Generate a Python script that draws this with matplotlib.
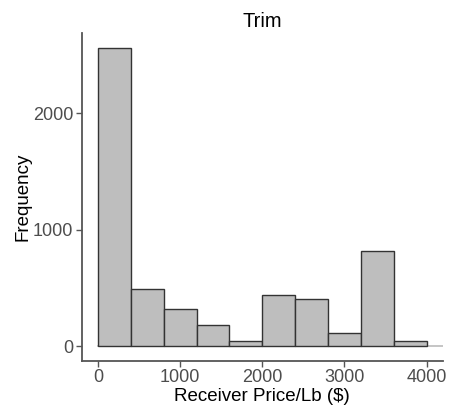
import numpy as np
import matplotlib
matplotlib.use("Agg")
import matplotlib.pyplot as plt

plt.rcParams["font.family"] = ["Liberation Sans", "DejaVu Sans"]

# histogram of receiver price per lb, bins of $400
bin_edges = [0, 400, 800, 1200, 1600, 2000, 2400, 2800, 3200, 3600, 4000]
counts = [2555, 487, 322, 182, 48, 436, 404, 114, 820, 43]
x_ticks = [0, 1000, 2000, 3000, 4000]
y_ticks = [0, 1000, 2000]

fig = plt.figure(figsize=(4.5, 4.08), dpi=100)
ax = fig.add_axes([81.5 / 450, 1 - 361 / 408, (443 - 81.5) / 450, (361 - 33) / 408])

left = np.array(bin_edges[:-1])
width = np.diff(bin_edges)
ax.bar(left, counts, width=width, align="edge", color="#bebebe",
       edgecolor="#333333", linewidth=1.0, zorder=2)

# baseline under the bars
ax.plot([0, 4200], [0, 0], color="#bbbbbb", linewidth=1.2, zorder=1)

ax.set_xlim(-200, 4200)
ax.set_ylim(-128, 2688)
ax.set_xticks(x_ticks)
ax.set_yticks(y_ticks)

for side in ["top", "right"]:
    ax.spines[side].set_visible(False)
for side in ["left", "bottom"]:
    ax.spines[side].set_color("#555555")
    ax.spines[side].set_linewidth(1.3)

ax.tick_params(axis="both", colors="#555555", labelcolor="#4d4d4d",
               labelsize=13, length=4, width=1.0, pad=2)

ax.set_title("Trim", fontsize=14.5, pad=4)
ax.set_xlabel("Receiver Price/Lb ($)", fontsize=13.5, labelpad=1)
ax.set_ylabel("Frequency", fontsize=13.5, labelpad=1)

fig.savefig("out.png", dpi=100)
